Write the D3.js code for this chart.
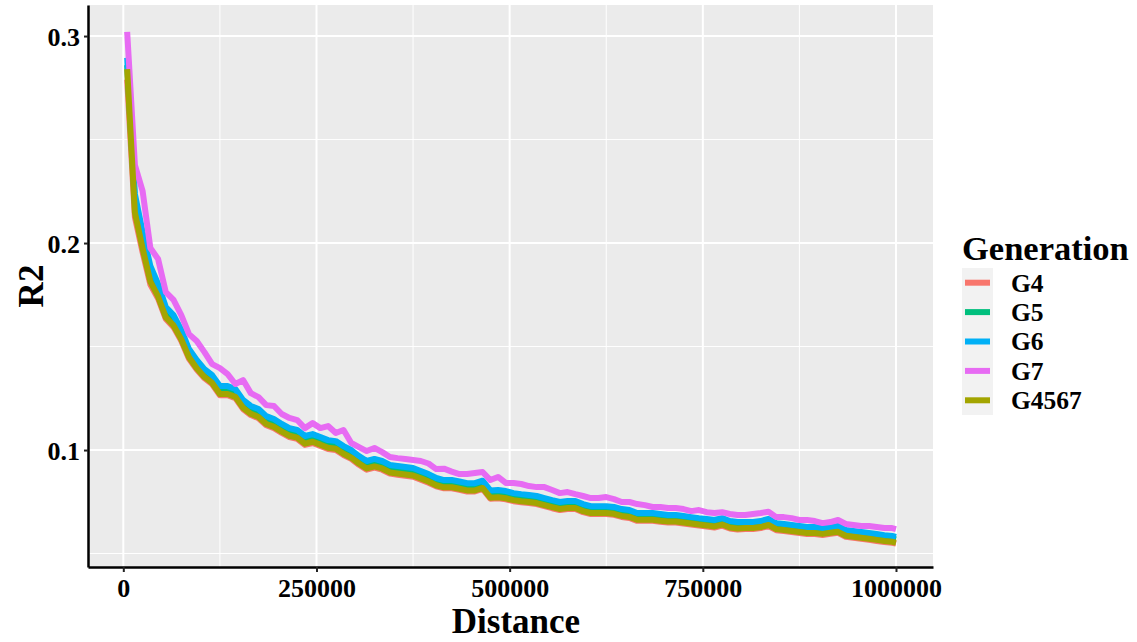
<!DOCTYPE html>
<html>
<head>
<meta charset="utf-8">
<script src="https://cdn.jsdelivr.net/npm/d3@7"></script>
<style>
  body { margin: 0; background: #ffffff; }
  #my_dataviz { width: 1137px; height: 642px; }
  text { font-family: "Liberation Serif", "Times New Roman", serif; font-weight: bold; fill: #000; }
</style>
</head>
<body>
<div id="my_dataviz"></div>
<script>
// Distance in kb (x values shared by every generation)
const distanceKb = [
  5, 15, 25, 35, 45, 55, 65, 75, 85, 95,
  105, 115, 125, 135, 145, 155, 165, 175, 185, 195,
  205, 215, 225, 235, 245, 255, 265, 275, 285, 295,
  305, 315, 325, 335, 345, 355, 365, 375, 385, 395,
  405, 415, 425, 435, 445, 455, 465, 475, 485, 495,
  505, 515, 525, 535, 545, 555, 565, 575, 585, 595,
  605, 615, 625, 635, 645, 655, 665, 675, 685, 695,
  705, 715, 725, 735, 745, 755, 765, 775, 785, 795,
  805, 815, 825, 835, 845, 855, 865, 875, 885, 895,
  905, 915, 925, 935, 945, 955, 965, 975, 985, 995,
  1000
];

// R2 values per generation
const g4Values = [
  0.2790, 0.2125, 0.1955, 0.1800, 0.1732, 0.1633, 0.1594, 0.1528, 0.1441, 0.1389,
  0.1347, 0.1318, 0.1265, 0.1265, 0.1251, 0.1198, 0.1169, 0.1154, 0.1120, 0.1106,
  0.1083, 0.1063, 0.1054, 0.1025, 0.1034, 0.1020, 0.1005, 0.1000, 0.0976, 0.0957,
  0.0929, 0.0905, 0.0915, 0.0905, 0.0886, 0.0881, 0.0876, 0.0871, 0.0857, 0.0842,
  0.0825, 0.0815, 0.0815, 0.0808, 0.0800, 0.0800, 0.0812, 0.0765, 0.0767, 0.0762,
  0.0753, 0.0748, 0.0744, 0.0739, 0.0729, 0.0719, 0.0710, 0.0715, 0.0715, 0.0700,
  0.0691, 0.0691, 0.0691, 0.0687, 0.0677, 0.0672, 0.0658, 0.0658, 0.0658, 0.0653,
  0.0650, 0.0650, 0.0645, 0.0640, 0.0635, 0.0631, 0.0626, 0.0635, 0.0621, 0.0616,
  0.0618, 0.0618, 0.0623, 0.0633, 0.0613, 0.0609, 0.0604, 0.0599, 0.0594, 0.0594,
  0.0590, 0.0595, 0.0600, 0.0581, 0.0576, 0.0571, 0.0566, 0.0561, 0.0556, 0.0552,
  0.0548
];
const g5Values = [
  0.2860, 0.2192, 0.2008, 0.1849, 0.1767, 0.1661, 0.1622, 0.1555, 0.1468, 0.1415,
  0.1373, 0.1344, 0.1291, 0.1290, 0.1278, 0.1224, 0.1195, 0.1181, 0.1146, 0.1133,
  0.1109, 0.1089, 0.1080, 0.1051, 0.1060, 0.1046, 0.1031, 0.1026, 0.1002, 0.0983,
  0.0955, 0.0931, 0.0941, 0.0931, 0.0912, 0.0907, 0.0902, 0.0897, 0.0883, 0.0868,
  0.0849, 0.0839, 0.0839, 0.0832, 0.0824, 0.0824, 0.0836, 0.0789, 0.0791, 0.0786,
  0.0777, 0.0772, 0.0768, 0.0763, 0.0753, 0.0743, 0.0734, 0.0739, 0.0739, 0.0724,
  0.0715, 0.0715, 0.0715, 0.0711, 0.0701, 0.0696, 0.0682, 0.0682, 0.0682, 0.0677,
  0.0673, 0.0673, 0.0668, 0.0663, 0.0658, 0.0654, 0.0649, 0.0658, 0.0644, 0.0639,
  0.0640, 0.0640, 0.0645, 0.0655, 0.0635, 0.0631, 0.0626, 0.0621, 0.0616, 0.0616,
  0.0611, 0.0616, 0.0621, 0.0602, 0.0597, 0.0592, 0.0587, 0.0582, 0.0577, 0.0573,
  0.0568
];
const g6Values = [
  0.2895, 0.2237, 0.2053, 0.1889, 0.1802, 0.1691, 0.1652, 0.1580, 0.1488, 0.1435,
  0.1391, 0.1362, 0.1309, 0.1309, 0.1295, 0.1242, 0.1213, 0.1198, 0.1164, 0.1150,
  0.1126, 0.1106, 0.1097, 0.1068, 0.1077, 0.1063, 0.1048, 0.1043, 0.1019, 0.1000,
  0.0971, 0.0947, 0.0957, 0.0947, 0.0928, 0.0923, 0.0918, 0.0913, 0.0899, 0.0884,
  0.0865, 0.0855, 0.0855, 0.0848, 0.0840, 0.0840, 0.0852, 0.0805, 0.0807, 0.0802,
  0.0792, 0.0787, 0.0783, 0.0778, 0.0768, 0.0758, 0.0749, 0.0754, 0.0754, 0.0739,
  0.0729, 0.0729, 0.0729, 0.0725, 0.0715, 0.0710, 0.0696, 0.0696, 0.0696, 0.0691,
  0.0686, 0.0686, 0.0681, 0.0676, 0.0671, 0.0667, 0.0662, 0.0671, 0.0657, 0.0652,
  0.0652, 0.0652, 0.0657, 0.0667, 0.0647, 0.0643, 0.0638, 0.0633, 0.0628, 0.0628,
  0.0623, 0.0628, 0.0633, 0.0614, 0.0609, 0.0604, 0.0599, 0.0594, 0.0589, 0.0585,
  0.0580
];
const g7Values = [
  0.3020, 0.2377, 0.2251, 0.1976, 0.1923, 0.1763, 0.1725, 0.1652, 0.1560, 0.1527,
  0.1473, 0.1415, 0.1396, 0.1367, 0.1319, 0.1338, 0.1275, 0.1256, 0.1217, 0.1213,
  0.1174, 0.1155, 0.1145, 0.1106, 0.1130, 0.1106, 0.1116, 0.1082, 0.1097, 0.1034,
  0.1014, 0.0995, 0.1010, 0.0990, 0.0966, 0.0961, 0.0957, 0.0952, 0.0947, 0.0935,
  0.0908, 0.0910, 0.0896, 0.0884, 0.0884, 0.0889, 0.0894, 0.0855, 0.0870, 0.0841,
  0.0841, 0.0836, 0.0826, 0.0821, 0.0821, 0.0807, 0.0792, 0.0797, 0.0787, 0.0778,
  0.0768, 0.0768, 0.0773, 0.0763, 0.0749, 0.0749, 0.0739, 0.0734, 0.0725, 0.0725,
  0.0720, 0.0720, 0.0715, 0.0705, 0.0710, 0.0700, 0.0696, 0.0700, 0.0691, 0.0686,
  0.0686, 0.0691, 0.0696, 0.0702, 0.0676, 0.0676, 0.0671, 0.0662, 0.0662, 0.0657,
  0.0647, 0.0652, 0.0662, 0.0643, 0.0638, 0.0633, 0.0633, 0.0628, 0.0623, 0.0623,
  0.0618
];
const g4567Values = [
  0.2840, 0.2147, 0.1973, 0.1814, 0.1742, 0.1641, 0.1602, 0.1535, 0.1448, 0.1395,
  0.1353, 0.1324, 0.1271, 0.1271, 0.1257, 0.1204, 0.1175, 0.1160, 0.1126, 0.1112,
  0.1089, 0.1069, 0.1060, 0.1031, 0.1040, 0.1026, 0.1011, 0.1006, 0.0982, 0.0963,
  0.0935, 0.0911, 0.0921, 0.0911, 0.0892, 0.0887, 0.0882, 0.0877, 0.0863, 0.0848,
  0.0830, 0.0820, 0.0820, 0.0813, 0.0805, 0.0805, 0.0817, 0.0770, 0.0772, 0.0767,
  0.0758, 0.0753, 0.0749, 0.0744, 0.0734, 0.0724, 0.0715, 0.0720, 0.0720, 0.0705,
  0.0696, 0.0696, 0.0696, 0.0692, 0.0682, 0.0677, 0.0663, 0.0663, 0.0663, 0.0658,
  0.0655, 0.0655, 0.0650, 0.0645, 0.0640, 0.0636, 0.0631, 0.0640, 0.0626, 0.0621,
  0.0623, 0.0623, 0.0628, 0.0638, 0.0618, 0.0614, 0.0609, 0.0604, 0.0599, 0.0599,
  0.0595, 0.0600, 0.0605, 0.0586, 0.0581, 0.0576, 0.0571, 0.0566, 0.0561, 0.0557,
  0.0553
];

// Legend order (also drawing order) and ggplot hue colours
const generations = ["G4", "G5", "G6", "G7", "G4567"];
const generationColors = ["#F8766D", "#00BF7D", "#00B0F6", "#E76BF3", "#A3A500"];
const generationValues = [g4Values, g5Values, g6Values, g7Values, g4567Values];

// Tick labels
const xTicks = [0, 250000, 500000, 750000, 1000000];
const xMinorTicks = [125000, 375000, 625000, 875000];
const yTicks = [0.1, 0.2, 0.3];
const yMinorTicks = [0.05, 0.15, 0.25];

// Panel box
const panel = { left: 88, top: 5, right: 933, bottom: 567 };

const svg = d3.select("#my_dataviz")
  .append("svg")
  .attr("width", 1137)
  .attr("height", 642);

const x = d3.scaleLinear()
  .domain([-45700, 1047900])
  .range([panel.left, panel.right]);

const y = d3.scaleLinear()
  .domain([0.0435, 0.315])
  .range([panel.bottom, panel.top]);

const colorScale = d3.scaleOrdinal()
  .domain(generations)
  .range(generationColors);

// Grey panel background
svg.append("rect")
  .attr("x", panel.left)
  .attr("y", panel.top)
  .attr("width", panel.right - panel.left)
  .attr("height", panel.bottom - panel.top)
  .attr("fill", "#EBEBEB");

// Minor then major grid lines
const grid = svg.append("g");
grid.selectAll(".xminor").data(xMinorTicks).join("line")
  .attr("x1", d => x(d)).attr("x2", d => x(d))
  .attr("y1", panel.top).attr("y2", panel.bottom)
  .attr("stroke", "#fff").attr("stroke-width", 1);
grid.selectAll(".yminor").data(yMinorTicks).join("line")
  .attr("x1", panel.left).attr("x2", panel.right)
  .attr("y1", d => y(d)).attr("y2", d => y(d))
  .attr("stroke", "#fff").attr("stroke-width", 1);
grid.selectAll(".xmajor").data(xTicks).join("line")
  .attr("x1", d => x(d)).attr("x2", d => x(d))
  .attr("y1", panel.top).attr("y2", panel.bottom)
  .attr("stroke", "#fff").attr("stroke-width", 2);
grid.selectAll(".ymajor").data(yTicks).join("line")
  .attr("x1", panel.left).attr("x2", panel.right)
  .attr("y1", d => y(d)).attr("y2", d => y(d))
  .attr("stroke", "#fff").attr("stroke-width", 2);

// Build one series object per generation
const series = generations.map((name, i) => ({
  name: name,
  points: distanceKb.map((d, j) => ({ distance: d * 1000, r2: generationValues[i][j] }))
}));

const line = d3.line()
  .x(d => x(d.distance))
  .y(d => y(d.r2));

svg.append("g")
  .selectAll("path")
  .data(series)
  .join("path")
  .attr("d", d => line(d.points))
  .attr("fill", "none")
  .attr("stroke", d => colorScale(d.name))
  .attr("stroke-width", 6)
  .attr("stroke-linejoin", "round");

// Axes
const xAxis = svg.append("g")
  .attr("transform", `translate(0,${panel.bottom})`)
  .call(d3.axisBottom(x).tickValues(xTicks).tickFormat(d3.format("d")).tickSize(5).tickSizeOuter(0));

const yAxis = svg.append("g")
  .attr("transform", `translate(${panel.left},0)`)
  .call(d3.axisLeft(y).tickValues(yTicks).tickFormat(d3.format(".1f")).tickSize(4).tickSizeOuter(0));

[xAxis, yAxis].forEach(a => {
  a.select(".domain").attr("stroke", "#000").attr("stroke-width", 2.5);
  a.selectAll(".tick line").attr("stroke", "#222").attr("stroke-width", 2);
  a.selectAll(".tick text")
    .attr("fill", "#000")
    .style("font-family", '"Liberation Serif", "Times New Roman", serif')
    .style("font-weight", "bold")
    .style("font-size", "26px");
});

xAxis.selectAll(".tick text").attr("y", 30).attr("dy", 0);
yAxis.selectAll(".tick text").attr("x", -8).attr("dy", "0.35em");

// Axis titles
svg.append("text")
  .attr("x", 516)
  .attr("y", 633)
  .attr("text-anchor", "middle")
  .style("font-size", "35px")
  .text("Distance");

svg.append("text")
  .attr("transform", `translate(43,${(panel.top + panel.bottom) / 2}) rotate(-90)`)
  .attr("text-anchor", "middle")
  .style("font-size", "35px")
  .text("R2");

// Legend
const legend = svg.append("g");
legend.append("text")
  .attr("x", 962)
  .attr("y", 260)
  .style("font-size", "34.5px")
  .text("Generation");

const keyHeight = 29.4;
legend.append("rect")
  .attr("x", 962)
  .attr("y", 268)
  .attr("width", 31)
  .attr("height", keyHeight * generations.length)
  .attr("fill", "#F2F2F2");

legend.selectAll(".key")
  .data(generations)
  .join("line")
  .attr("x1", 965).attr("x2", 990)
  .attr("y1", (d, i) => 268 + keyHeight * (i + 0.5))
  .attr("y2", (d, i) => 268 + keyHeight * (i + 0.5))
  .attr("stroke", d => colorScale(d))
  .attr("stroke-width", 6);

legend.selectAll(".label")
  .data(generations)
  .join("text")
  .attr("x", 1011)
  .attr("y", (d, i) => 268 + keyHeight * (i + 0.5))
  .attr("dy", "0.35em")
  .style("font-size", "25.5px")
  .text(d => d);
</script>
</body>
</html>
